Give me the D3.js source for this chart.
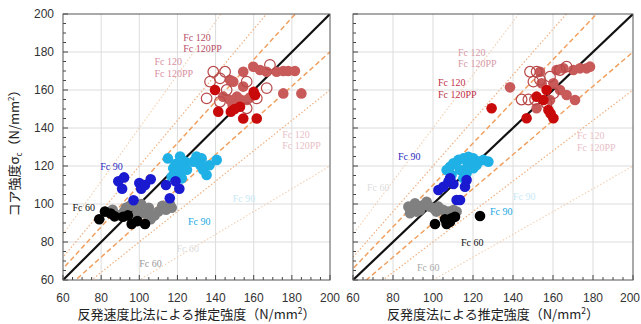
<!DOCTYPE html>
<html>
<head>
<meta charset="utf-8">
<script src="https://cdn.jsdelivr.net/npm/d3@7"></script>
<style>
  body { margin: 0; background: #fff; }
  svg text { font-family: "Liberation Sans", Arial, sans-serif; }
</style>
</head>
<body>
<div id="chart"></div>
<script>
// tick values
var majorTicks = [60, 80, 100, 120, 140, 160, 180, 200];
// reference line ratios: solid 1:1, dashed +-10%, dotted +-20%, pale dotted outer
var dashedRatios = [1.1, 0.9];
var dottedRatios = [1.2, 0.8];
var outerRatios = [1.4, 0.6];

// left panel: 反発速度比法 vs core strength
var leftFc60a = [[79,92],[82,96],[87,93.5],[91.5,93.3],[96,89.5],[103,89.5],[99,91],[94,94],[85,95]];
var leftFc60b = [[86,97],[89,94],[92,96],[95,99],[97,93],[99,97],[101,100],[103,95],[105,98],[108,94],[110,96],[112,99],[114,97],[116,100],[117,98],[106,92],[100,95],[93,98]];
var leftFc90a = [[89,112],[91,108],[92,114],[97,102],[100,111],[101,108],[103,110],[106,113],[114,110],[116,103],[121,108],[119,112]];
var leftFc90b = [[115,124],[121.4,125],[124,122.3],[117.8,118.8],[120.5,116.2],[122.8,120.4],[125,118],[130,125],[132.7,124],[132,120.4],[133.5,118],[135.3,115.3],[140.6,123.2],[117,114.4],[122.3,113.5],[128.3,122.3],[136.8,120.4],[119,121]];
var leftFc120a = [[139.7,160],[141.4,148.6],[148,148.6],[152.8,151.2],[154.5,145],[161.6,145],[160.7,157.4],[160,159],[150,150]];
var leftFc120b = [[147.6,165.3],[149.3,164.4],[154.5,161.8],[154.5,169.6],[159.8,172.2],[163.3,170.5],[166.8,169.6],[172,169.6],[175.5,170],[178.1,170],[181.6,170],[175.5,158.2],[185,158.2],[144,156.5],[147.6,154.7],[151.2,156.5],[156.3,154.7],[153,155],[149,152],[158,156]];
var leftFc120c = [[135.3,155.6],[138.8,169.6],[145,169.6],[137.1,164.4],[142.3,166.1],[156.3,164.4],[161.6,155.6],[145.8,160],[168.5,173.2],[166.8,161],[156.3,150.4],[142.3,153.8]];

// right panel: 反発度法 vs core strength
var rightFc60a = [[101,89.5],[106,92],[106.8,89.5],[109.3,92.5],[111,93.3],[123.5,93.7],[108.5,90.7]];
var rightFc60b = [[87.7,98.6],[88.5,95.1],[91,100.4],[93.5,96.8],[95.2,99.5],[96.8,101.2],[91.8,96],[100.2,97.7],[102.7,98.6],[105.2,96.8],[107.7,96],[110.2,96.8],[111.8,96],[101.7,96],[89.3,97.7],[98.5,98.6]];
var rightFc90a = [[102.7,107.4],[105.2,109.1],[107.7,111.7],[108.5,113.5],[111.8,102.1],[113.5,102.1],[116,109.1],[110.2,110.5],[116.8,112.6]];
var rightFc90b = [[106.8,117.9],[108.5,119.6],[110.2,121.4],[112.7,123.2],[115.2,124],[117.7,124.9],[120.2,124],[122.7,122.3],[125.2,123.2],[127.7,122.3],[113.5,117.9],[116.8,116.2],[120.2,118.8],[117.3,120.5],[109.3,115.3],[115.2,113.5],[121.8,120.5]];
var rightFc120a = [[129.3,150.4],[146.8,145.1],[151.8,156.5],[156.8,160],[157.7,149.5],[160.2,145.1],[158.8,147.6],[155.2,154.7]];
var rightFc120b = [[138.5,161.4],[153.5,169.6],[161.8,170.5],[165.2,171.4],[170.2,170.5],[173.5,171.4],[176.8,171.4],[178.5,172.3],[171,154.7],[166.8,157.4],[163.5,160],[158.5,154.7],[160.2,163.5],[151.8,150.4],[154.3,163.5]];
var rightFc120c = [[148.5,169.6],[151.8,169.6],[144.3,155],[147.7,155],[151,155],[153.5,165.3],[150.2,164.4],[158.5,167],[163.5,170.5],[160.2,158.2],[166.8,172.3],[156.8,153]];

// annotation labels [x, y, text lines, colour] in data units
var leftLabels = [
  [123, 186, ["Fc 120", "Fc 120PP"], "#b8506a"],
  [108, 173, ["Fc 120", "Fc 120PP"], "#d890a0"],
  [175, 135, ["Fc 120", "Fc 120PP"], "#e8c0c8"],
  [79.5, 118, ["Fc 90"], "#2a2ac0"],
  [125.5, 89, ["Fc 90"], "#20a8e0"],
  [149, 101, ["Fc 90"], "#c8e8f4"],
  [65, 96.5, ["Fc 60"], "#111"],
  [119.5, 75, ["Fc 60"], "#ddd"],
  [100, 67, ["Fc 60"], "#999"]
];
var rightLabels = [
  [112.5, 178, ["Fc 120", "Fc 120PP"], "#d89aa8"],
  [102.5, 162, ["Fc 120", "Fc 120PP"], "#c03048"],
  [172, 134, ["Fc 120", "Fc 120PP"], "#e8c0c8"],
  [82.5, 123, ["Fc 90"], "#2a2ac0"],
  [128.5, 94, ["Fc 90"], "#20a8e0"],
  [140, 102, ["Fc 90"], "#c8e8f4"],
  [67, 107, ["Fc 60"], "#ddd"],
  [114, 78, ["Fc 60"], "#111"],
  [92, 65, ["Fc 60"], "#aaa"]
];

var W = 641, H = 324;
var svg = d3.select("#chart").append("svg").attr("width", W).attr("height", H);

function drawPanel(p) {
  var x = d3.scaleLinear().domain([60, 200]).range([p.x0, p.x1]);
  var y = d3.scaleLinear().domain([60, 200]).range([280, 14]);
  var g = svg.append("g");

  var minor = d3.range(60, 201, 5);

  // grid
  g.selectAll(".gx").data(majorTicks.slice(1, -1)).enter().append("line")
    .attr("x1", function(d) { return x(d); }).attr("x2", function(d) { return x(d); })
    .attr("y1", y(60)).attr("y2", y(200))
    .style("stroke", "#dcdcdc").style("stroke-width", 1);
  g.selectAll(".gy").data(majorTicks.slice(1, -1)).enter().append("line")
    .attr("y1", function(d) { return y(d); }).attr("y2", function(d) { return y(d); })
    .attr("x1", x(60)).attr("x2", x(200))
    .style("stroke", "#dcdcdc").style("stroke-width", 1);

  // reference lines, clipped to the plot
  var clipId = "clip" + p.id;
  svg.append("clipPath").attr("id", clipId).append("rect")
    .attr("x", x(60)).attr("y", y(200)).attr("width", x(200) - x(60)).attr("height", y(60) - y(200));
  var lines = g.append("g").attr("clip-path", "url(#" + clipId + ")");
  function ratioLine(k, color, width, dash) {
    lines.append("line")
      .attr("x1", x(30)).attr("y1", y(30 * k)).attr("x2", x(220)).attr("y2", y(220 * k))
      .style("stroke", color).style("stroke-width", width).style("stroke-dasharray", dash);
  }
  outerRatios.forEach(function(k) { ratioLine(k, "#f3cfb0", 1.1, "1.5,2"); });
  dottedRatios.forEach(function(k) { ratioLine(k, "#f0b080", 1.2, "1.5,2"); });
  dashedRatios.forEach(function(k) { ratioLine(k, "#f0a060", 1.5, "5,3"); });
  lines.append("line")
    .attr("x1", x(60)).attr("y1", y(60)).attr("x2", x(200)).attr("y2", y(200))
    .style("stroke", "#111").style("stroke-width", 2.2);

  // points
  function dots(data, fill, stroke) {
    g.append("g").selectAll("circle").data(data).enter().append("circle")
      .attr("cx", function(d) { return x(d[0]); })
      .attr("cy", function(d) { return y(d[1]); })
      .attr("r", 5.3)
      .style("fill", fill)
      .style("stroke", stroke)
      .style("stroke-width", stroke === "none" ? 0 : 1.2);
  }
  dots(p.s60b, "#808080", "none");
  dots(p.s60a, "#000000", "none");
  dots(p.s90b, "#1fb0e6", "none");
  dots(p.s90a, "#1a1ad0", "none");
  dots(p.s120b, "#c85a5a", "none");
  dots(p.s120c, "none", "#b84848");
  dots(p.s120a, "#c80a0a", "none");

  // labels
  p.labels.forEach(function(l) {
    var t = g.append("text")
      .attr("x", x(l[0])).attr("y", y(l[1]))
      .style("font-family", "'Liberation Serif', 'DejaVu Serif', serif")
      .style("font-size", "10px")
      .style("fill", l[3]);
    l[2].forEach(function(s, i) {
      t.append("tspan").attr("x", x(l[0])).attr("dy", i === 0 ? 0 : 11.5).text(s);
    });
  });

  // ticks inward
  g.selectAll(".tx").data(minor).enter().append("line")
    .attr("x1", function(d) { return x(d); }).attr("x2", function(d) { return x(d); })
    .attr("y1", y(60)).attr("y2", function(d) { return y(60) - (d % 20 === 0 ? 5 : 3); })
    .style("stroke", "#444");
  g.selectAll(".ty").data(minor).enter().append("line")
    .attr("y1", function(d) { return y(d); }).attr("y2", function(d) { return y(d); })
    .attr("x1", x(60)).attr("x2", function(d) { return x(60) + (d % 20 === 0 ? 5 : 3); })
    .style("stroke", "#444");

  // frame
  g.append("rect")
    .attr("x", x(60)).attr("y", y(200)).attr("width", x(200) - x(60)).attr("height", y(60) - y(200))
    .style("fill", "none").style("stroke", "#555").style("stroke-width", 1);

  // x tick labels
  g.selectAll(".lx").data(majorTicks).enter().append("text")
    .attr("x", function(d) { return Math.min(x(d), W - 11); }).attr("y", 302)
    .attr("text-anchor", "middle")
    .style("font-size", "12px").style("fill", "#333")
    .text(function(d) { return d; });

  if (p.yLabels) {
    g.selectAll(".ly").data(majorTicks).enter().append("text")
      .attr("x", x(60) - 9).attr("y", function(d) { return y(d) + 4; })
      .attr("text-anchor", "end")
      .style("font-size", "12px").style("fill", "#333")
      .text(function(d) { return d; });
  }

  // x title
  var xt = g.append("text")
    .attr("x", (x(60) + x(200)) / 2).attr("y", 319)
    .attr("text-anchor", "middle")
    .style("font-family", "'Noto Sans CJK JP', sans-serif")
    .style("font-size", "13px").style("fill", "#222");
  xt.append("tspan").text(p.title + "（N/mm");
  xt.append("tspan").attr("dy", -5).style("font-size", "8.5px").text("2");
  xt.append("tspan").attr("dy", 5).text("）");
}

drawPanel({id: "L", x0: 63, x1: 330, yLabels: true, title: "反発速度比法による推定強度",
  s60a: leftFc60a, s60b: leftFc60b, s90a: leftFc90a, s90b: leftFc90b,
  s120a: leftFc120a, s120b: leftFc120b, s120c: leftFc120c, labels: leftLabels});
drawPanel({id: "R", x0: 353, x1: 633, yLabels: false, title: "反発度法による推定強度",
  s60a: rightFc60a, s60b: rightFc60b, s90a: rightFc90a, s90b: rightFc90b,
  s120a: rightFc120a, s120b: rightFc120b, s120c: rightFc120c, labels: rightLabels});

// y title
var yt = svg.append("text")
  .attr("transform", "translate(19,150) rotate(-90)")
  .attr("text-anchor", "middle")
  .style("font-family", "'Noto Sans CJK JP', sans-serif")
  .style("font-size", "13px").style("fill", "#222");
yt.append("tspan").text("コア強度σ");
yt.append("tspan").attr("dy", 3).style("font-size", "8px").text("c");
yt.append("tspan").attr("dy", -3).text("（N/mm");
yt.append("tspan").attr("dy", -5).style("font-size", "8px").text("2");
yt.append("tspan").attr("dy", 5).text("）");
</script>
</body>
</html>
